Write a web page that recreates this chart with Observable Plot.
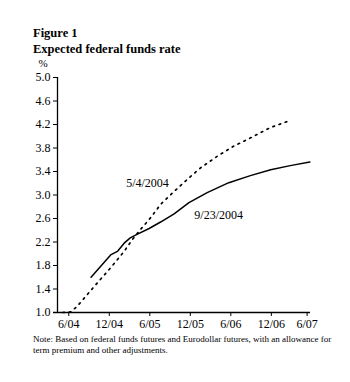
<!DOCTYPE html>
<html>
<head>
<meta charset="utf-8">
<script src="https://cdn.jsdelivr.net/npm/d3@7"></script>
<script src="https://cdn.jsdelivr.net/npm/@observablehq/plot@0.6"></script>
<style>
  html, body { margin: 0; padding: 0; background: #fff; }
  body { width: 350px; height: 382px; overflow: hidden; font-family: "Liberation Serif", "DejaVu Serif", serif; color: #000; }
  .title { padding: 25px 0 0 33px; font-size: 12.5px; font-weight: bold; line-height: 16px; }
  .note { padding-left: 33px; font-size: 9px; line-height: 11px; width: 310px; }
  svg { display: block; }
</style>
</head>
<body>
<div class="title">Figure 1<br>Expected federal funds rate</div>
<div id="chart"></div>
<div class="note">Note: Based on federal funds futures and Eurodollar futures, with an allowance for term premium and other adjustments.</div>
<script>
// x = months since June 2004
const xTickValues = [0, 6, 12, 18, 24, 30, 35.3];
const xTickLabels = ["6/04", "12/04", "6/05", "12/05", "6/06", "12/06", "6/07"];
const yTickValues = [1.0, 1.4, 1.8, 2.2, 2.6, 3.0, 3.4, 3.8, 4.2, 4.6, 5.0];

// 9/23/2004 path (solid)
const sepMonths = [3.3, 6.2, 7.2, 8.2, 9.1, 10.1, 11.9, 13.6, 15.6, 17.8, 20.5, 23.7, 26.9, 29.9, 32.8, 35.7];
const sepRates  = [1.60, 1.98, 2.04, 2.18, 2.27, 2.33, 2.43, 2.54, 2.68, 2.87, 3.04, 3.21, 3.33, 3.43, 3.50, 3.56];

// 5/4/2004 path (dotted)
const mayMonths = [-0.9, 0.3, 1.2, 2.7, 4.2, 6.2, 8.2, 9.4, 10.6, 12.1, 13.6, 15.6, 17.5, 19.5, 22.0, 24.4, 27.4, 29.9, 32.6];
const mayRates  = [1.00, 1.01, 1.10, 1.30, 1.50, 1.76, 2.04, 2.24, 2.41, 2.61, 2.84, 3.06, 3.26, 3.46, 3.66, 3.83, 4.00, 4.15, 4.26];

// series labels
const labelText   = ["5/4/2004", "9/23/2004"];
const labelMonths = [8.5, 18.6];
const labelRates  = [3.20, 2.66];

const xDomain = [-1.67, 35.8];
const yDomain = [1.0, 5.0];

const sep = sepMonths.map((m, i) => ({m, r: sepRates[i]}));
const may = mayMonths.map((m, i) => ({m, r: mayRates[i]}));
const labels = labelText.map((t, i) => ({t, m: labelMonths[i], r: labelRates[i]}));

const chart = Plot.plot({
  width: 350,
  height: 277,
  marginLeft: 57,
  marginRight: 40,
  marginTop: 20,
  marginBottom: 22,
  style: {fontFamily: "Liberation Serif, serif", fontSize: "12px", color: "#000", background: "#fff"},
  x: {domain: xDomain},
  y: {domain: yDomain},
  marks: [
    Plot.axisY({ticks: yTickValues, tickSize: 4, tickPadding: 3, tickFormat: d => d.toFixed(1), label: null, fontSize: 12}),
    Plot.axisX({ticks: xTickValues, tickSize: 4, tickPadding: 3, tickFormat: d => xTickLabels[xTickValues.indexOf(d)], label: null, fontSize: 12}),
    Plot.ruleX([xDomain[0]], {stroke: "#000", strokeWidth: 1.3}),
    Plot.ruleY([yDomain[0]], {stroke: "#000", strokeWidth: 1.3, insetLeft: -4}),
    Plot.line(may, {x: "m", y: "r", stroke: "#000", strokeWidth: 1.7, strokeDasharray: "1.7,4.8"}),
    Plot.line(sep, {x: "m", y: "r", stroke: "#000", strokeWidth: 1.5}),
    Plot.text(labels, {x: "m", y: "r", text: "t", textAnchor: "start", fontSize: 12, fill: "#000"}),
    Plot.text(["%"], {frameAnchor: "top-left", text: d => d, dx: -19, dy: -18, fontSize: 11, fill: "#000"})
  ]
});
document.getElementById("chart").appendChild(chart);
</script>
</body>
</html>
